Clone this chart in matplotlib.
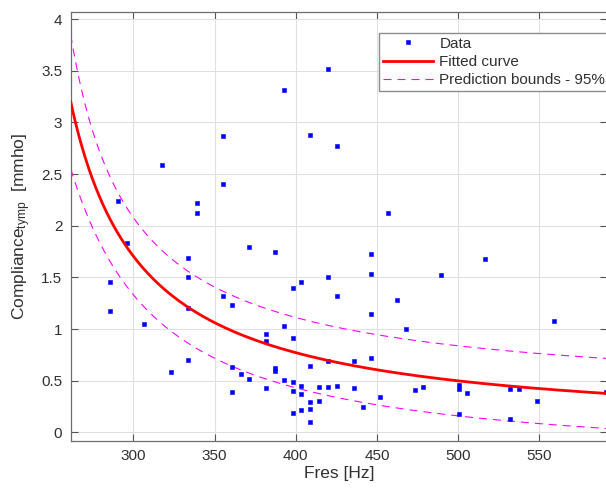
import numpy as np
import matplotlib
matplotlib.use('Agg')
import matplotlib.pyplot as plt

# ---- data ----
fres_hz = [355.0, 317.8, 290.7, 339.0, 339.0, 355.0, 419.6, 392.7, 408.7, 425.2,
           457.0, 296.2, 285.4, 285.4, 306.7, 333.4, 333.4, 333.4, 333.4, 323.3,
           355.0, 360.5, 360.5, 360.5, 366.1, 371.4, 387.2, 446.5, 446.5, 419.6,
           403.0, 398.3, 425.2, 462.5, 446.5, 467.9, 392.7, 381.8, 381.8, 398.3,
           371.4, 387.2, 387.2, 408.7, 419.6, 435.6, 446.5, 392.7, 398.3, 381.8,
           403.0, 398.3, 403.0, 414.1, 419.6, 425.2, 435.6, 408.7, 414.1, 408.7,
           403.0, 398.3, 408.7, 441.2, 451.6, 516.3, 489.4, 559.0, 473.4, 478.3,
           500.3, 500.3, 505.4, 532.1, 537.6, 548.5, 500.3, 532.1, 591.0]
compliance = [2.871, 2.588, 2.236, 2.220, 2.126, 2.400, 3.520, 3.317, 2.878, 2.769,
              2.126, 1.835, 1.458, 1.177, 1.051, 1.687, 1.506, 1.200, 0.700, 0.581,
              1.319, 1.232, 0.635, 0.387, 0.567, 1.791, 1.742, 1.726, 1.532, 1.506,
              1.452, 1.397, 1.319, 1.278, 1.145, 1.003, 1.029, 0.952, 0.881, 0.910,
              0.519, 0.622, 0.593, 0.645, 0.690, 0.690, 0.716, 0.509, 0.487, 0.426,
              0.448, 0.400, 0.371, 0.439, 0.439, 0.448, 0.426, 0.293, 0.300, 0.229,
              0.219, 0.190, 0.097, 0.245, 0.339, 1.678, 1.523, 1.074, 0.409, 0.441,
              0.461, 0.416, 0.380, 0.416, 0.416, 0.300, 0.174, 0.126, 0.390]

# fitted model y = p1 / (x + q1), parameters
fit_p1 = 140.8
fit_q1 = -217.4
# prediction-bound half width: sqrt(s^2 + (k/(x+q1)^2)^2)
bound_s = 0.339
bound_k = 1070.0

x_ticks = [300, 350, 400, 450, 500, 550]
y_ticks = [0, 0.5, 1, 1.5, 2, 2.5, 3, 3.5, 4]
y_ticklabels = ['0', '0.5', '1', '1.5', '2', '2.5', '3', '3.5', '4']

plt.rcParams['font.family'] = ['Liberation Sans', 'DejaVu Sans']
plt.rcParams['mathtext.fontset'] = 'custom'
plt.rcParams['mathtext.rm'] = 'Liberation Sans'
plt.rcParams['mathtext.it'] = 'Liberation Sans:italic'

W, H = 606, 488
fig = plt.figure(figsize=(W / 100, H / 100), dpi=100)
left, right, top, bottom = 70.7, 607.0, 11.7, 440.7
ax = fig.add_axes([left / W, (H - bottom) / H, (right - left) / W, (bottom - top) / H])

xmin, xmax = 261.4, 591.6
ax.set_xlim(xmin, xmax)
ax.set_ylim(-0.081, 4.072)

xs = np.linspace(xmin, xmax, 600)
y_fit = fit_p1 / (xs + fit_q1)
half = np.sqrt(bound_s ** 2 + (bound_k / (xs + fit_q1) ** 2) ** 2)

ax.plot(fres_hz, compliance, 's', color=(0, 0, 1), markersize=3.3,
        markeredgewidth=0.4, label='Data', zorder=3)
ax.plot(xs, y_fit, '-', color=(1, 0, 0), lw=2.0, label='Fitted curve', zorder=4)
ax.plot(xs, y_fit + half, color=(1, 0, 1), lw=0.8, ls=(0, (7.2, 5.4)),
        label='Prediction bounds - 95%', zorder=2)
ax.plot(xs, y_fit - half, color=(1, 0, 1), lw=0.8, ls=(0, (7.2, 5.4)), zorder=2)

ax.set_xticks(x_ticks)
ax.set_yticks(y_ticks)
ax.set_yticklabels(y_ticklabels)
ax.grid(True, color='#e0e0e0', lw=0.8)
ax.set_axisbelow(True)
ax.tick_params(direction='in', length=5, width=0.8, color='#555555',
               labelcolor='#303030', labelsize=11, top=True, right=True, pad=6)
for s in ax.spines.values():
    s.set_color('#6e6e6e')
    s.set_linewidth(0.9)

ax.set_xlabel('Fres [Hz]', fontsize=12.5, color='#303030', labelpad=2)
ax.set_ylabel('Compliance$_{\\rm tymp}$  [mmho]', fontsize=12.5, color='#303030', labelpad=6)

leg = fig.legend(loc='upper left', bbox_to_anchor=(379 / W, 1 - 33 / H),
                 fontsize=11, frameon=True, fancybox=False, edgecolor='#8c8c8c',
                 handlelength=3.3, handletextpad=0.4, labelspacing=0.28,
                 borderpad=0.25, borderaxespad=0, numpoints=1, framealpha=1)
leg.get_frame().set_linewidth(1.0)
for t in leg.get_texts():
    t.set_color('#303030')

fig.savefig('out.png', dpi=100)
